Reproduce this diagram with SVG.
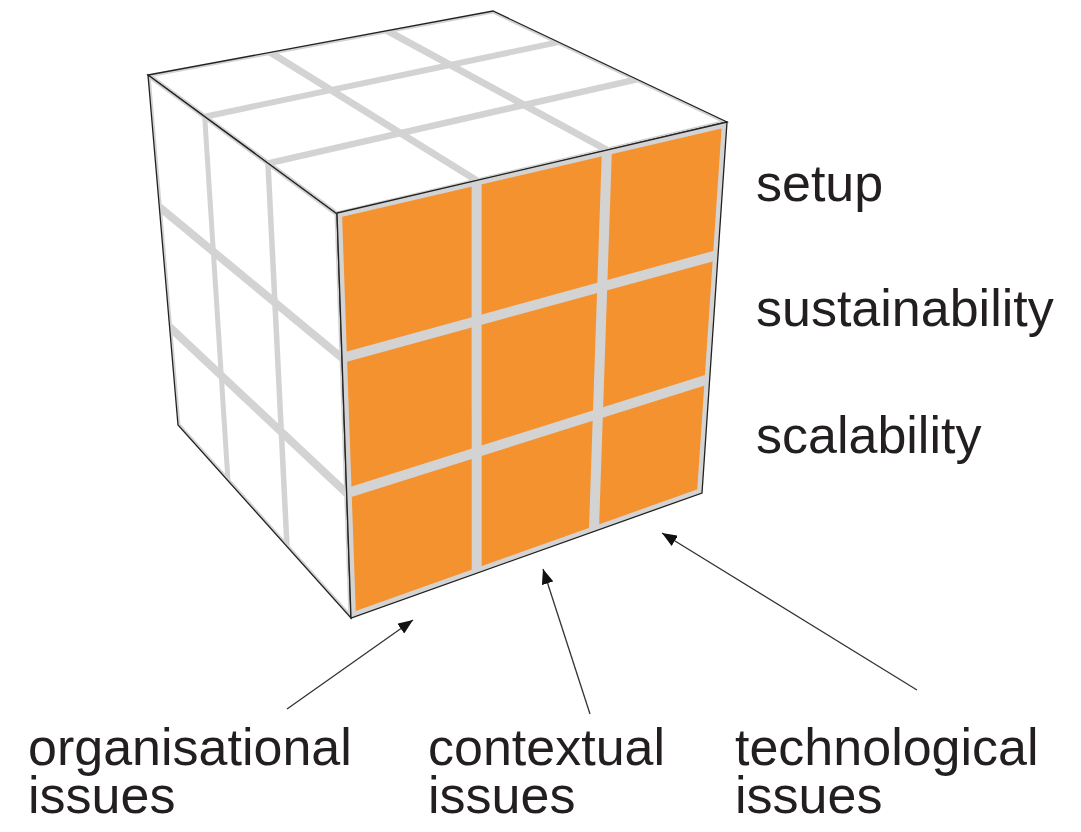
<svg xmlns="http://www.w3.org/2000/svg" width="1081" height="832" viewBox="0 0 1081 832">
  <style>
    .label { font-family: "Liberation Sans", Arial, sans-serif; font-size: 52px; fill: #231f20; }
    .edge { fill: none; stroke: #222; stroke-width: 1.3; stroke-linejoin: miter; }
    .grid-front { stroke: #d3d3d3; stroke-width: 10; fill: none; }
    .grid-side { stroke: #d3d3d3; fill: none; }
    .connector { stroke: #333; stroke-width: 1.3; fill: none; }
  </style>
  <defs>
    <marker id="arrowhead" markerUnits="userSpaceOnUse" markerWidth="16" markerHeight="12" refX="15" refY="6" orient="auto">
      <path d="M0,0 L15,6 L0,12 Z" fill="#111"/>
    </marker>
    <clipPath id="clip-top"><polygon points="148,75 493,11 727,122 337,214"/></clipPath>
    <clipPath id="clip-left"><polygon points="148,75 337,214 351,618 178,425"/></clipPath>
    <clipPath id="clip-front"><polygon points="337,213 727,122 702,493 351,618"/></clipPath>
  </defs>

  <rect width="1081" height="832" fill="#ffffff"/>

  <!-- top face -->
  <g id="face-top">
    <polygon points="148,75 493,11 727,122 337,214" fill="#ffffff"/>
    <g clip-path="url(#clip-top)">
      <line class="grid-side" stroke-width="6" x1="204.7" y1="116.7" x2="558.5" y2="42.1"/>
      <line class="grid-side" stroke-width="6.5" x1="268" y1="163.3" x2="636.9" y2="79.3"/>
      <line class="grid-side" stroke-width="7" x1="270.1" y1="52.3" x2="476.6" y2="180.4"/>
      <line class="grid-side" stroke-width="7" x1="387.1" y1="30.6" x2="606.9" y2="150"/>
      <polygon class="grid-side" stroke-width="5" points="148,75 493,11 727,122 337,214"/>
    </g>
    <polygon class="edge" points="148,75 493,11 727,122 337,214"/>
  </g>

  <!-- left face -->
  <g id="face-left">
    <polygon points="148,75 337,214 351,618 178,425" fill="#ffffff"/>
    <g clip-path="url(#clip-left)">
      <line class="grid-side" stroke-width="5" x1="204.7" y1="116.7" x2="228" y2="480.8"/>
      <line class="grid-side" stroke-width="5.5" x1="268" y1="163.3" x2="287" y2="546.6"/>
      <line class="grid-side" stroke-width="8" x1="159.3" y1="207" x2="342" y2="358"/>
      <line class="grid-side" stroke-width="8" x1="169.6" y1="327" x2="346.7" y2="493.3"/>
      <polygon class="grid-side" stroke-width="5" points="148,75 337,214 351,618 178,425"/>
    </g>
    <polygon class="edge" points="148,75 337,214 351,618 178,425"/>
  </g>

  <!-- front face -->
  <g id="face-front">
    <polygon points="337,213 727,122 702,493 351,618" fill="#f4922f"/>
    <g clip-path="url(#clip-front)">
      <line class="grid-front" x1="476.6" y1="180.4" x2="476.7" y2="573.3"/>
      <line class="grid-front" x1="606.9" y1="150" x2="593.9" y2="531.5"/>
      <line class="grid-front" x1="342" y1="358" x2="718" y2="254.8"/>
      <line class="grid-front" x1="346.7" y1="493.3" x2="709.7" y2="378.7"/>
      <polygon class="grid-front" points="337,213 727,122 702,493 351,618"/>
    </g>
    <polygon class="edge" points="337,213 727,122 702,493 351,618"/>
  </g>

  <!-- row labels -->
  <g id="label-setup"><text class="label" x="756" y="201">setup</text></g>
  <g id="label-sustainability"><text class="label" x="756" y="326">sustainability</text></g>
  <g id="label-scalability"><text class="label" x="756" y="453">scalability</text></g>

  <!-- column labels -->
  <g id="label-organisational">
    <text class="label" x="28" y="765">organisational</text>
    <text class="label" x="28" y="813">issues</text>
  </g>
  <g id="label-contextual">
    <text class="label" x="428" y="765">contextual</text>
    <text class="label" x="428" y="813">issues</text>
  </g>
  <g id="label-technological">
    <text class="label" x="735" y="765">technological</text>
    <text class="label" x="735" y="813">issues</text>
  </g>

  <!-- connectors -->
  <g id="connectors">
    <line class="connector" x1="287" y1="709" x2="413" y2="620" marker-end="url(#arrowhead)"/>
    <line class="connector" x1="590" y1="714" x2="543" y2="569" marker-end="url(#arrowhead)"/>
    <line class="connector" x1="917" y1="690" x2="662" y2="533" marker-end="url(#arrowhead)"/>
  </g>
</svg>
